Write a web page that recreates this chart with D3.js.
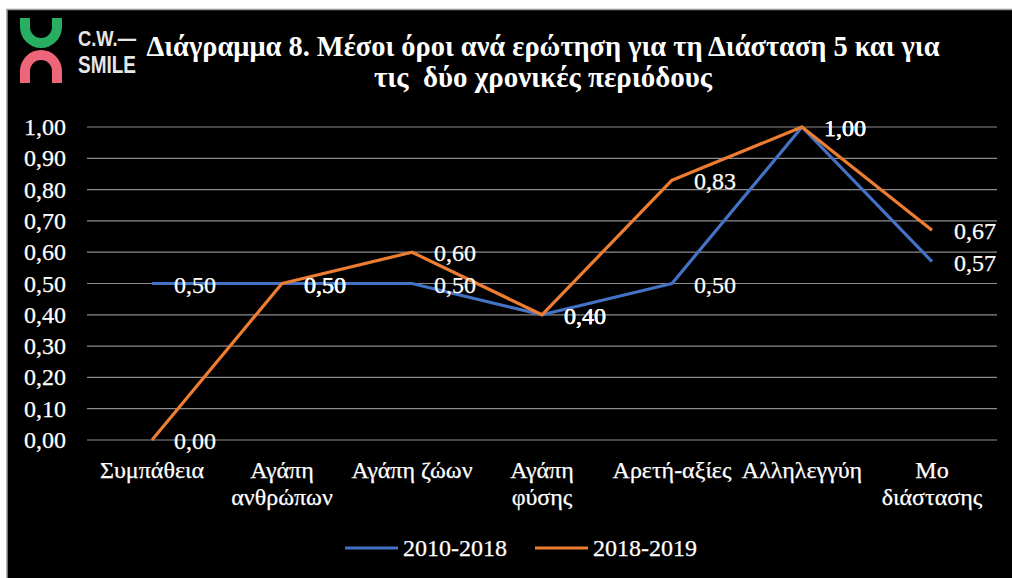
<!DOCTYPE html>
<html><head><meta charset="utf-8">
<script src="https://cdn.jsdelivr.net/npm/d3@7"></script>
</head><body style="margin:0;background:#fff">
<svg id="c" width="1012" height="578" style="display:block"></svg>
<script>
const categories = [["Συμπάθεια"],["Αγάπη","ανθρώπων"],["Αγάπη ζώων"],["Αγάπη","φύσης"],["Αρετή-αξίες"],["Αλληλεγγύη"],["Μο","διάστασης"]];
const series2010 = [0.50,0.50,0.50,0.40,0.50,1.00,0.57];
const series2018 = [0.00,0.50,0.60,0.40,0.83,1.00,0.67];
const seriesNames = ["2010-2018","2018-2019"];
const yTicks = [0,0.1,0.2,0.3,0.4,0.5,0.6,0.7,0.8,0.9,1.0];
const titleLines = ["Διάγραμμα 8. Μέσοι όροι ανά ερώτηση για τη Διάσταση 5 και για","τις  δύο χρονικές περιόδους"];

const colors = ["#4472C4","#ED7D31"];
const fmt = v => d3.format(".2f")(v).replace(".", ",");
const svg = d3.select("#c");
const SERIF = "Liberation Serif";

svg.append("rect").attr("x",7).attr("y",9.5).attr("width",1010).attr("height",575)
  .attr("fill","#000").attr("stroke","#9a9a9a").attr("stroke-width",1.5);

// logo
const g = svg.append("g");
const arcG = d3.arc().innerRadius(11).outerRadius(21).startAngle(Math.PI/2).endAngle(Math.PI*1.5);
g.append("path").attr("d", arcG()).attr("transform","translate(41,27)").attr("fill","#27AE60");
g.append("rect").attr("x",20).attr("y",18).attr("width",10).attr("height",9.5).attr("fill","#27AE60");
g.append("rect").attr("x",52).attr("y",18).attr("width",10).attr("height",9.5).attr("fill","#27AE60");
const arcP = d3.arc().innerRadius(11).outerRadius(21).startAngle(-Math.PI/2).endAngle(Math.PI/2);
g.append("path").attr("d", arcP()).attr("transform","translate(41,71)").attr("fill","#EE6478");
g.append("rect").attr("x",20).attr("y",70.5).attr("width",10).attr("height",12.5).attr("fill","#EE6478");
g.append("rect").attr("x",52).attr("y",70.5).attr("width",10).attr("height",12.5).attr("fill","#EE6478");
g.append("text").attr("x",78).attr("y",46).text("C.W.—").attr("fill","#e6e6e6")
  .attr("font-family","Liberation Sans").attr("font-weight","bold")
  .attr("font-size",22).attr("textLength",58).attr("lengthAdjust","spacingAndGlyphs");
g.append("text").attr("x",78).attr("y",73).text("SMILE").attr("fill","#e6e6e6")
  .attr("font-family","Liberation Sans").attr("font-weight","bold")
  .attr("font-size",23).attr("textLength",58).attr("lengthAdjust","spacingAndGlyphs");

// title
const tl = [{t:titleLines[0],y:56,len:793},{t:titleLines[1],y:87,len:338}];
svg.selectAll("text.title").data(tl).join("text").attr("class","title")
  .attr("x",543).attr("y",d=>d.y).attr("text-anchor","middle")
  .attr("font-family",SERIF).attr("font-weight","bold").attr("font-size",29)
  .attr("fill","#fff").attr("textLength",d=>d.len).attr("lengthAdjust","spacingAndGlyphs")
  .style("white-space","pre")
  .text(d=>d.t);

const x = d3.scalePoint().domain(d3.range(categories.length)).range([87,997]).padding(0.5);
const y = d3.scaleLinear().domain([0,1]).range([440,127]);

svg.append("g").selectAll("line").data(yTicks).join("line")
  .attr("x1",87).attr("x2",997).attr("y1",d=>y(d)).attr("y2",d=>y(d))
  .attr("stroke","#8c8c8c").attr("stroke-width",1.2);

const txt = sel => sel.attr("font-family",SERIF).attr("font-size",24).attr("fill","#fff")
  .attr("stroke","#fff").attr("stroke-width",0.25);

// y tick labels
svg.append("g").selectAll("text").data(yTicks).join("text")
  .attr("x",66).attr("y",d=>y(d)+8).attr("text-anchor","end")
  .call(txt).text(d=>fmt(d));

// category labels
const cat = svg.append("g").selectAll("text").data(categories).join("text")
  .attr("text-anchor","middle").call(txt);
cat.selectAll("tspan").data((d,i)=>d.map(s=>({s,i}))).join("tspan")
  .attr("x",d=>x(d.i)).attr("y",(d,j)=>478+j*27).text(d=>d.s);

const line = d3.line().x((d,i)=>x(i)).y(d=>y(d));
[series2010, series2018].forEach((s,k)=>{
  svg.append("path").datum(s).attr("d",line).attr("fill","none")
    .attr("stroke",colors[k]).attr("stroke-width",3.2).attr("stroke-linejoin","round");
});

// data labels
[series2010, series2018].forEach((s,k)=>{
  svg.append("g").selectAll("text").data(s).join("text")
    .attr("x",(d,i)=>x(i)+22).attr("y",d=>y(d)+9)
    .call(txt).text(d=>fmt(d));
});

// legend
const leg = [{x1:345,x2:398,tx:403},{x1:535,x2:588,tx:593}];
leg.forEach((l,k)=>{
  svg.append("line").attr("x1",l.x1).attr("x2",l.x2).attr("y1",548).attr("y2",548)
    .attr("stroke",colors[k]).attr("stroke-width",3.2);
  svg.append("text").attr("x",l.tx).attr("y",556).call(txt).text(seriesNames[k]);
});
</script>
</body></html>
